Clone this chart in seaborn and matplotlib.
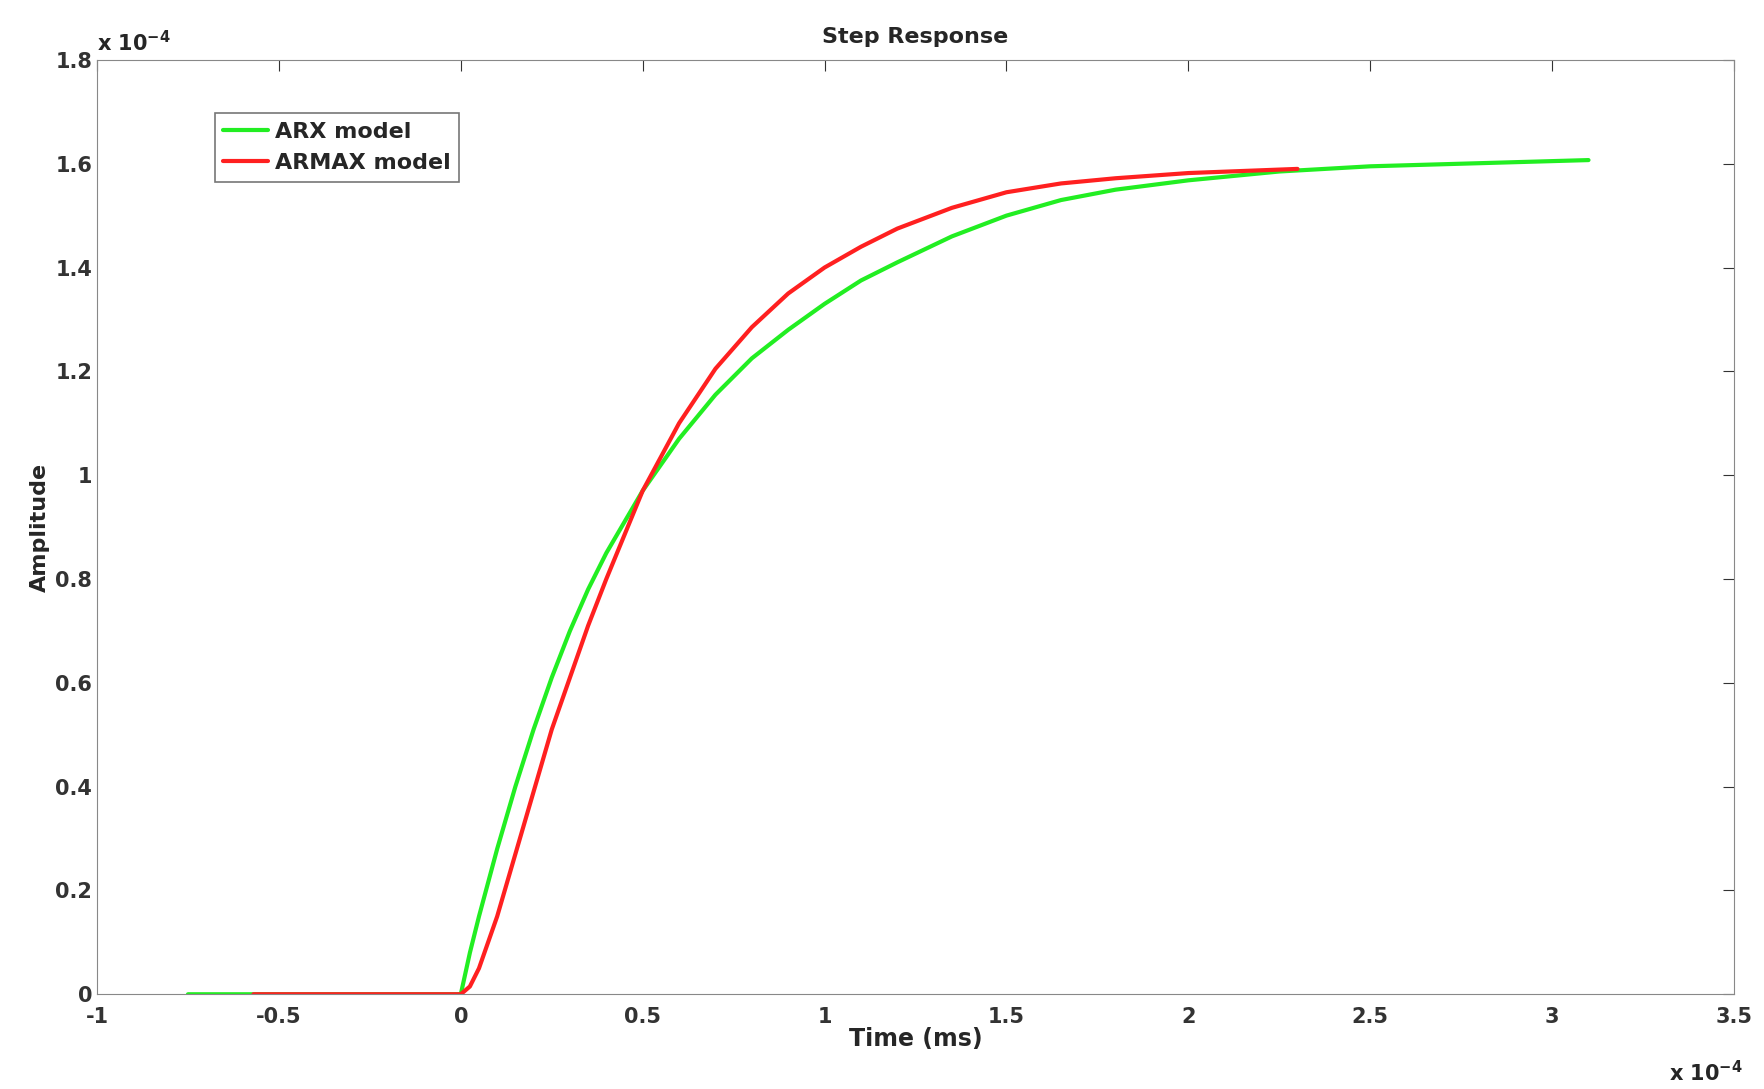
import numpy as np
import seaborn as sns
from matplotlib import pyplot as plt

# values in units of 1e-4 (time) and 1e-4 (amplitude)
arx_t = [-0.75, 0, 0.025, 0.05, 0.1, 0.15, 0.2, 0.25, 0.3, 0.35, 0.4, 0.5, 0.6, 0.7, 0.8, 0.9, 1.0, 1.1, 1.2, 1.35, 1.5, 1.65, 1.8, 2.0, 2.25, 2.5, 2.8, 3.1]
arx_y = [0, 0, 0.08, 0.15, 0.28, 0.4, 0.51, 0.61, 0.70, 0.78, 0.85, 0.97, 1.07, 1.155, 1.225, 1.28, 1.33, 1.375, 1.41, 1.46, 1.50, 1.53, 1.55, 1.568, 1.585, 1.595, 1.601, 1.607]
armax_t = [-0.57, 0, 0.025, 0.05, 0.1, 0.15, 0.2, 0.25, 0.3, 0.35, 0.4, 0.5, 0.6, 0.7, 0.8, 0.9, 1.0, 1.1, 1.2, 1.35, 1.5, 1.65, 1.8, 2.0, 2.3]
armax_y = [0, 0, 0.015, 0.05, 0.15, 0.27, 0.39, 0.51, 0.61, 0.71, 0.80, 0.97, 1.10, 1.205, 1.285, 1.35, 1.40, 1.44, 1.475, 1.515, 1.545, 1.562, 1.572, 1.582, 1.59]

sns.set_style('white')
plt.rcParams['font.family'] = ['DejaVu Sans']
plt.rcParams['font.weight'] = 'bold'

fig, ax = plt.subplots(figsize=[17.64, 10.89], dpi=100)
sns.lineplot(x=arx_t, y=arx_y, ax=ax, color='#22ee22', lw=3, label='ARX model')
sns.lineplot(x=armax_t, y=armax_y, ax=ax, color='#ff2020', lw=3, label='ARMAX model')

ax.set_xlim(-1, 3.5)
ax.set_ylim(0, 1.8)
ax.set_xticks(np.arange(-1, 3.51, 0.5))
ax.set_yticks(np.arange(0, 1.81, 0.2))
ax.set_xticklabels(['-1', '-0.5', '0', '0.5', '1', '1.5', '2', '2.5', '3', '3.5'])
ax.set_yticklabels(['0', '0.2', '0.4', '0.6', '0.8', '1', '1.2', '1.4', '1.6', '1.8'])
ax.tick_params(labelsize=15, direction='in', length=8, top=True, right=True, colors='#333333')
ax.tick_params(axis='x', pad=9)
for s in ax.spines.values():
    s.set_color('#888888')
ax.set_xlabel('Time (ms)', fontsize=17, weight='bold', labelpad=0)
ax.set_ylabel('Amplitude', fontsize=16, weight='bold')
ax.set_title('Step Response', fontsize=16, weight='bold', pad=12)
ax.text(0, 1.005, 'x 10$^{-4}$', transform=ax.transAxes, fontsize=15, va='bottom')
ax.text(0.96, -0.07, 'x 10$^{-4}$', transform=ax.transAxes, fontsize=15, va='top')
leg = ax.legend(loc='upper left', bbox_to_anchor=(0.065, 0.955), fontsize=16, fancybox=False,
                edgecolor='#555555', handlelength=2, borderpad=0.4, labelspacing=0.5,
                handletextpad=0.3)
leg.get_frame().set_linewidth(1.2)

plt.subplots_adjust(left=0.055, right=0.983, top=0.945, bottom=0.087)
plt.savefig('out.png')
